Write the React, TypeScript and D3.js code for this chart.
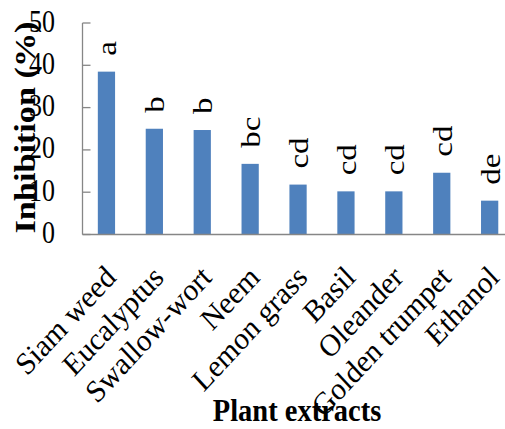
import React from "react";
import * as d3 from "d3";

const categories = ["Siam weed", "Eucalyptus", "Swallow-wort", "Neem", "Lemon grass", "Basil", "Oleander", "Golden trumpet", "Ethanol"];
const values = [38.5, 25.0, 24.7, 16.7, 11.8, 10.2, 10.2, 14.6, 8.0];
const letters = ["a", "b", "b", "bc", "cd", "cd", "cd", "cd", "de"];
const yTicks = [0, 10, 20, 30, 40, 50];
const yTitle = "Inhibition (%)";
const xTitle = "Plant extracts";

const W = 505;
const H = 429;
const SY = 1.18;
const FONT = "Liberation Serif, DejaVu Serif, serif";

export default function App() {
  const x0 = 82.5;
  const step = 47.9;
  const x = d3
    .scaleBand<string>()
    .domain(categories)
    .range([x0, x0 + step * categories.length])
    .paddingInner(0.64)
    .paddingOuter(0.32);
  const y = d3.scaleLinear().domain([0, 50]).range([234.5, 23]);
  const axisColor = "#868686";
  const bw = x.bandwidth();
  const ts = { fontFamily: FONT };

  return (
    <svg width={W} height={H} style={{ position: "absolute", left: 0, top: 0, background: "#fff" }}>
      {categories.map((c, i) => (
        <rect key={c} x={x(c)!} y={y(values[i])} width={bw} height={y(0) - y(values[i])} fill="#4F81BD" />
      ))}
      <line x1={x0} x2={x0} y1={y(50)} y2={y(0)} stroke={axisColor} strokeWidth={1.3} />
      <line x1={x0} x2={W} y1={y(0)} y2={y(0)} stroke={axisColor} strokeWidth={1.3} />
      {yTicks.map((t) => (
        <g key={t}>
          <line x1={x0} x2={x0 + 8} y1={y(t)} y2={y(t)} stroke={axisColor} strokeWidth={1.3} />
          <text
            transform={`translate(55,${y(t) + 8.5}) scale(1,${SY})`}
            textAnchor="end"
            style={ts}
            fontSize={26}
            fill="#000"
          >
            {t}
          </text>
        </g>
      ))}
      {categories.map((c, i) => {
        const cx = x(c)! + bw / 2;
        return (
          <text
            key={"l" + c}
            transform={`translate(${cx + 10},${y(values[i]) - 16}) scale(1,${SY}) rotate(-90)`}
            style={ts}
            fontSize={28}
            fill="#000"
          >
            {letters[i]}
          </text>
        );
      })}
      {categories.map((c) => {
        const cx = x(c)! + bw / 2;
        return (
          <text
            key={"c" + c}
            transform={`translate(${cx + 11},279) scale(1,1.08) rotate(-45)`}
            textAnchor="end"
            style={ts}
            fontSize={29}
            fill="#000"
          >
            {c}
          </text>
        );
      })}
      <text
        transform={`translate(35,127.5) scale(1,${SY}) rotate(-90)`}
        textAnchor="middle"
        style={ts}
        fontWeight="bold"
        fontSize={29}
        fill="#000"
      >
        {yTitle}
      </text>
      <text
        transform={`translate(297,421) scale(1,1.12)`}
        textAnchor="middle"
        style={ts}
        fontWeight="bold"
        fontSize={28.5}
        fill="#000"
      >
        {xTitle}
      </text>
    </svg>
  );
}
